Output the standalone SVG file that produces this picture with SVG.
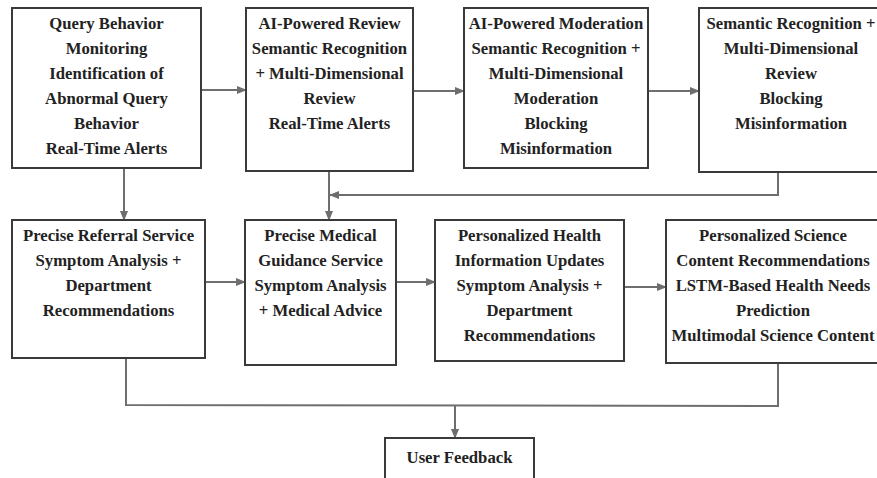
<svg xmlns="http://www.w3.org/2000/svg" width="877" height="478" viewBox="0 0 877 478">
<style>
.box{fill:#fff;stroke:#3a3a3a;stroke-width:2}
.t{font-family:"Liberation Serif","DejaVu Serif",serif;font-weight:bold;font-size:16.7px;fill:#222;text-anchor:middle}
.c{fill:none;stroke:#6e6e6e;stroke-width:2}
</style>
<defs>
<marker id="ah" markerUnits="userSpaceOnUse" markerWidth="10" markerHeight="10" viewBox="0 0 10 10" refX="9" refY="5" orient="auto">
<path d="M0,1 L10,5 L0,9 Z" fill="#6e6e6e"/>
</marker>
</defs>
<rect width="877" height="478" fill="#fff"/>
<g id="connectors">
<line class="c" x1="201" y1="90" x2="246" y2="90" marker-end="url(#ah)"/>
<line class="c" x1="413" y1="91" x2="464" y2="91" marker-end="url(#ah)"/>
<line class="c" x1="648" y1="91" x2="699" y2="91" marker-end="url(#ah)"/>
<line class="c" x1="124" y1="168" x2="124" y2="220" marker-end="url(#ah)"/>
<line class="c" x1="329" y1="171" x2="329" y2="220" marker-end="url(#ah)"/>
<polyline class="c" points="778,172 778,195 330,195" marker-end="url(#ah)"/>
<line class="c" x1="205" y1="282" x2="245" y2="282" marker-end="url(#ah)"/>
<line class="c" x1="396" y1="282" x2="435" y2="282" marker-end="url(#ah)"/>
<line class="c" x1="624" y1="287" x2="666" y2="287" marker-end="url(#ah)"/>
<polyline class="c" points="126,358 126,405 778,406 778,363"/>
<line class="c" x1="455" y1="405" x2="455" y2="438" marker-end="url(#ah)"/>
</g>
<g id="n1">
<rect class="box" x="12" y="8" width="189" height="160"/>
<text class="t" x="106.5" y="29">Query Behavior</text>
<text class="t" x="106.5" y="54">Monitoring</text>
<text class="t" x="106.5" y="79">Identification of</text>
<text class="t" x="106.5" y="104">Abnormal Query</text>
<text class="t" x="106.5" y="129">Behavior</text>
<text class="t" x="106.5" y="154">Real-Time Alerts</text>
</g>
<g id="n2">
<rect class="box" x="246" y="8" width="167" height="163"/>
<text class="t" x="329.5" y="29">AI-Powered Review</text>
<text class="t" x="329.5" y="54">Semantic Recognition</text>
<text class="t" x="329.5" y="79">+ Multi-Dimensional</text>
<text class="t" x="329.5" y="104">Review</text>
<text class="t" x="329.5" y="129">Real-Time Alerts</text>
</g>
<g id="n3">
<rect class="box" x="464" y="8" width="184" height="160"/>
<text class="t" x="556" y="29">AI-Powered Moderation</text>
<text class="t" x="556" y="54">Semantic Recognition +</text>
<text class="t" x="556" y="79">Multi-Dimensional</text>
<text class="t" x="556" y="104">Moderation</text>
<text class="t" x="556" y="129">Blocking</text>
<text class="t" x="556" y="154">Misinformation</text>
</g>
<g id="n4">
<rect class="box" x="699" y="8" width="184" height="164"/>
<text class="t" x="791" y="29">Semantic Recognition +</text>
<text class="t" x="791" y="54">Multi-Dimensional</text>
<text class="t" x="791" y="79">Review</text>
<text class="t" x="791" y="104">Blocking</text>
<text class="t" x="791" y="129">Misinformation</text>
</g>
<g id="n5">
<rect class="box" x="12" y="220" width="193" height="138"/>
<text class="t" x="108.5" y="241">Precise Referral Service</text>
<text class="t" x="108.5" y="266">Symptom Analysis +</text>
<text class="t" x="108.5" y="291">Department</text>
<text class="t" x="108.5" y="316">Recommendations</text>
</g>
<g id="n6">
<rect class="box" x="245" y="220" width="151" height="145"/>
<text class="t" x="320.5" y="241">Precise Medical</text>
<text class="t" x="320.5" y="266">Guidance Service</text>
<text class="t" x="320.5" y="291">Symptom Analysis</text>
<text class="t" x="320.5" y="316">+ Medical Advice</text>
</g>
<g id="n7">
<rect class="box" x="435" y="220" width="189" height="141"/>
<text class="t" x="529.5" y="241">Personalized Health</text>
<text class="t" x="529.5" y="266">Information Updates</text>
<text class="t" x="529.5" y="291">Symptom Analysis +</text>
<text class="t" x="529.5" y="316">Department</text>
<text class="t" x="529.5" y="341">Recommendations</text>
</g>
<g id="n8">
<rect class="box" x="666" y="220" width="216" height="143"/>
<text class="t" x="773" y="241">Personalized Science</text>
<text class="t" x="773" y="266">Content Recommendations</text>
<text class="t" x="773" y="291">LSTM-Based Health Needs</text>
<text class="t" x="773" y="316">Prediction</text>
<text class="t" x="773" y="341">Multimodal Science Content</text>
</g>
<g id="n9">
<rect class="box" x="385" y="438" width="149" height="50"/>
<text class="t" x="459.5" y="463">User Feedback</text>
</g>
</svg>
